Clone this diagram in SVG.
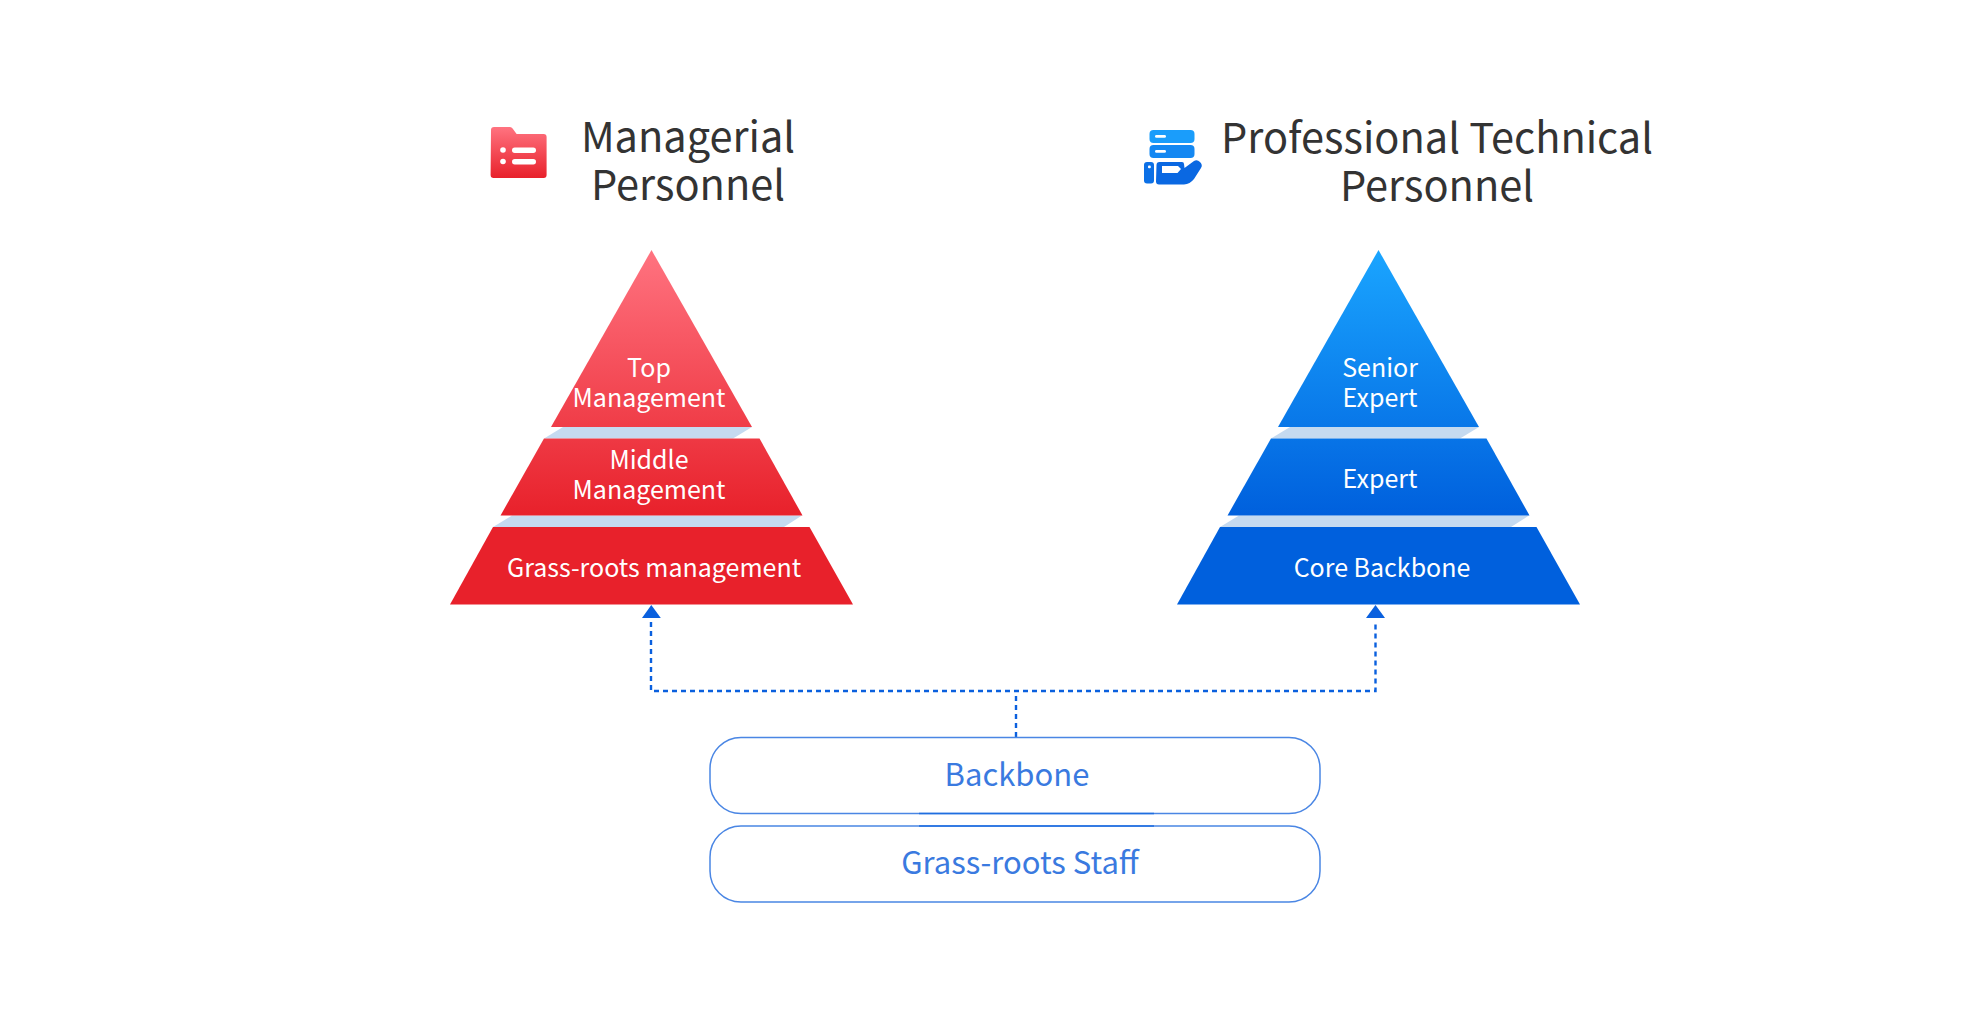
<svg xmlns="http://www.w3.org/2000/svg" width="1977" height="1016" viewBox="0 0 1977 1016">
<style>
text{font-family:"Noto Sans CJK SC","Noto Sans",sans-serif;text-anchor:middle}
.h{font-size:41.500px;fill:#333}
.w{font-size:25px;fill:#fff}
.b{font-size:31px;fill:#3a7ae0}
.gap{fill:#c5daf0}
.pill{fill:#fff;stroke:#4a86e4;stroke-width:1.500}
.dash{fill:none;stroke:#0a60de;stroke-width:2.400;stroke-dasharray:5 4}
.tip{fill:#0a60de}
.seam{stroke:#1f6ee0;stroke-width:1.500}
.ln{fill:#fff}
</style>
<defs>
<linearGradient id="red" gradientUnits="userSpaceOnUse" x1="0" y1="250" x2="0" y2="515"><stop offset="0" stop-color="#ff7380"/><stop offset="1" stop-color="#e8212b"/></linearGradient>
<linearGradient id="blue" gradientUnits="userSpaceOnUse" x1="0" y1="250" x2="0" y2="515"><stop offset="0" stop-color="#1aa5ff"/><stop offset="1" stop-color="#0060dd"/></linearGradient>
<linearGradient id="ired" x1="0" y1="0" x2="0" y2="1"><stop offset="0" stop-color="#ff7380"/><stop offset="1" stop-color="#e8212b"/></linearGradient>
</defs>
<rect width="1977" height="1016" fill="#fff"/>
<g id="managerial-heading">
<path fill="url(#ired)" d="M491 130a3 3 0 0 1 3-3h16a3 3 0 0 1 2.600 1.500l4 5.500h27a3 3 0 0 1 3 3v38a3 3 0 0 1-3 3h-50a3 3 0 0 1-3-3z"/>
<g class="ln"><circle cx="503" cy="150" r="2.800"/><circle cx="503" cy="161.500" r="2.800"/><rect x="512" y="147.500" width="24" height="5.500" rx="2.750"/><rect x="512" y="159" width="24" height="5.500" rx="2.750"/></g>
<text class="h" x="688" y="151.500">Managerial</text>
<text class="h" x="688" y="199.500">Personnel</text>
</g>
<g id="technical-heading">
<rect x="1149.500" y="130" width="45" height="13" rx="4" fill="#1a9dfb"/>
<rect x="1149.500" y="145" width="45" height="13" rx="4" fill="#1488f2"/>
<rect x="1144" y="162" width="10" height="21.500" rx="3" fill="#0c70e6"/>
<path d="M1156.500 165a3 3 0 0 1 3-3h22.500q2 0 2 2l.5 4 9.500-7q3-2 6 1t1 6l-7 11q-4 5-10 5.500h-25a3 3 0 0 1-3-3z" fill="#0a68e2"/>
<g class="ln"><rect x="1155" y="135" width="11" height="2.800" rx="1.400"/><rect x="1155" y="150" width="11" height="2.800" rx="1.400"/><rect x="1148" y="165.500" width="2.800" height="2.800" rx="1"/><path d="M1162 166h16l3 3-3.500 4H1162z"/></g>
<text class="h" x="1437" y="152.500">Professional Technical</text>
<text class="h" x="1437" y="200.500">Personnel</text>
</g>
<g id="gaps">
<polygon class="gap" points="563,427 752,427 733,438.500 544,438.500"/>
<polygon class="gap" points="512,515.500 802,515.500 784,527 493,527"/>
<polygon class="gap" points="1290,427 1479,427 1460,438.500 1271,438.500"/>
<polygon class="gap" points="1239,515.500 1529,515.500 1511,527 1220,527"/>
</g>
<g id="top-management">
<polygon fill="url(#red)" points="651.500,250 752,427 551,427"/>
<text class="w" x="649" y="377">Top</text><text class="w" x="649" y="407">Management</text>
</g>
<g id="middle-management">
<polygon fill="url(#red)" points="544,438.500 759.500,438.500 802.500,515.500 500.500,515.500"/>
<text class="w" x="649" y="469">Middle</text><text class="w" x="649" y="499">Management</text>
</g>
<g id="grass-roots-management">
<polygon fill="#e8212b" points="493,527 809.500,527 853,604.500 450,604.500"/>
<text class="w" x="654" y="577">Grass-roots management</text>
</g>
<g id="senior-expert">
<polygon fill="url(#blue)" points="1378.500,250 1479,427 1278,427"/>
<text class="w" x="1380" y="377">Senior</text><text class="w" x="1380" y="407">Expert</text>
</g>
<g id="expert">
<polygon fill="url(#blue)" points="1271,438.500 1486.500,438.500 1529.500,515.500 1227.500,515.500"/>
<text class="w" x="1380" y="488">Expert</text>
</g>
<g id="core-backbone">
<polygon fill="#0060dd" points="1220,527 1536.500,527 1580,604.500 1177,604.500"/>
<text class="w" x="1382" y="577">Core Backbone</text>
</g>
<g id="connectors">
<path class="dash" d="M1016 737V691M651 622V691H1375.500V622"/>
<polygon class="tip" points="651.300,605 660.800,618 642,618"/>
<polygon class="tip" points="1375.500,605 1385,618 1366,618"/>
</g>
<g id="backbone">
<rect class="pill" x="710" y="737.500" width="610" height="76" rx="31"/>
<line class="seam" x1="919" y1="813.500" x2="1154" y2="813.500"/>
<text class="b" x="1017" y="786">Backbone</text>
</g>
<g id="grass-roots-staff">
<rect class="pill" x="710" y="826" width="610" height="76" rx="31"/>
<line class="seam" x1="919" y1="826" x2="1154" y2="826"/>
<text class="b" x="1020" y="874">Grass-roots Staff</text>
</g>
</svg>
